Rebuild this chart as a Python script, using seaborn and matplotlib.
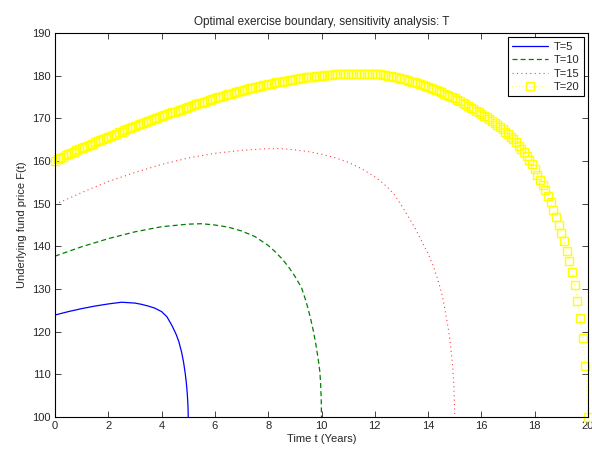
import numpy as np
import pandas as pd
import matplotlib
matplotlib.use("Agg")
import matplotlib.pyplot as plt
import seaborn as sns

# T = 5 boundary
t5 = [0, 0.5, 1, 1.5, 2, 2.5, 3, 3.25, 3.5, 3.75, 4, 4.2, 4.4, 4.55, 4.65, 4.75, 4.82,
      4.88, 4.92, 4.95, 4.97, 4.99, 5.0]
f5 = [123.9, 124.7, 125.4, 126.0, 126.5, 126.9, 126.7, 126.4, 126.0, 125.5, 124.7, 123.5,
      121.3, 119.3, 117.6, 115.2, 113.0, 110.5, 108.5, 106.5, 104.8, 102.5, 100.0]

# T = 10 boundary
t10 = [0, 1, 2, 3, 4, 5, 5.5, 6, 6.5, 7, 7.5, 8, 8.25, 8.5, 8.75, 9, 9.25, 9.4, 9.5, 9.6,
       9.7, 9.78, 9.85, 9.9, 9.94, 9.97, 9.99, 10.0]
f10 = [137.7, 139.9, 141.8, 143.4, 144.6, 145.2, 145.3, 145.0, 144.5, 143.6, 142.3, 140.2,
       138.8, 137.2, 135.3, 133.0, 130.3, 127.5, 125.3, 122.8, 120.0, 117.3, 114.6, 112.5,
       110.5, 107.5, 104.0, 100.0]

# T = 15 boundary
t15 = [0, 1, 2, 3, 4, 5, 6, 7, 8, 8.5, 9, 9.5, 10, 10.5, 11, 11.5, 12, 12.25, 12.5, 12.75,
       13, 13.25, 13.5, 13.75, 14, 14.2, 14.4, 14.55, 14.65, 14.75, 14.82, 14.88, 14.92,
       14.96, 14.98, 15.0]
f15 = [149.8, 152.6, 155.2, 157.3, 159.2, 160.7, 161.8, 162.5, 162.9, 162.9, 162.6, 162.2,
       161.6, 160.8, 159.7, 158.2, 156.3, 155.1, 153.7, 152.0, 149.6, 147.0, 144.4, 141.3,
       138.3, 135.3, 131.5, 128.0, 124.5, 121.0, 118.0, 114.5, 112.0, 108.0, 105.0, 100.0]

# T = 20 boundary, one value per 0.1 year
t20 = [round(0.1 * i, 1) for i in range(201)]
f20 = [160.1, 160.4, 160.7, 161.0, 161.3, 161.6, 161.9, 162.2, 162.5, 162.7, 163.0,
       163.3, 163.6, 163.8, 164.1, 164.4, 164.6, 164.9, 165.2, 165.4, 165.7,
       165.9, 166.2, 166.4, 166.7, 166.9, 167.2, 167.4, 167.7, 167.9, 168.2,
       168.4, 168.6, 168.9, 169.1, 169.3, 169.6, 169.8, 170.0, 170.3, 170.5,
       170.7, 170.9, 171.2, 171.4, 171.6, 171.8, 172.0, 172.3, 172.5, 172.7,
       172.9, 173.1, 173.3, 173.5, 173.7, 173.9, 174.1, 174.3, 174.5, 174.7,
       174.9, 175.1, 175.3, 175.4, 175.6, 175.8, 176.0, 176.2, 176.3, 176.5,
       176.7, 176.8, 177.0, 177.1, 177.3, 177.4, 177.6, 177.7, 177.9, 178.0,
       178.1, 178.3, 178.4, 178.5, 178.6, 178.7, 178.8, 179.0, 179.1, 179.2,
       179.3, 179.4, 179.5, 179.6, 179.6, 179.7, 179.8, 179.9, 179.9, 180.0,
       180.1, 180.1, 180.2, 180.2, 180.3, 180.3, 180.3, 180.4, 180.4, 180.4,
       180.5, 180.5, 180.5, 180.5, 180.5, 180.5, 180.5, 180.5, 180.4, 180.4,
       180.3, 180.3, 180.2, 180.1, 180.0, 179.9, 179.8, 179.6, 179.5, 179.3,
       179.2, 179.0, 178.8, 178.6, 178.4, 178.2, 178.0, 177.8, 177.6, 177.4,
       177.1, 176.9, 176.6, 176.3, 176.1, 175.8, 175.5, 175.2, 175.0, 174.7,
       174.3, 174.0, 173.6, 173.3, 172.9, 172.5, 172.2, 171.8, 171.4, 171.0,
       170.6, 170.2, 169.8, 169.4, 168.9, 168.5, 168.0, 167.4, 166.9, 166.3,
       165.7, 165.1, 164.4, 163.6, 162.8, 162.0, 161.1, 160.2, 159.3, 158.2,
       156.8, 155.6, 154.4, 153.1, 151.8, 150.4, 148.6, 146.8, 145.0, 143.1,
       141.3, 139.0, 136.6, 134.0, 130.9, 127.3, 123.3, 118.5, 112.0, 100.0]

sns.set_style("ticks")
plt.rcParams['font.family'] = ['Liberation Sans', 'DejaVu Sans']
plt.rcParams['xtick.direction'] = 'in'
plt.rcParams['ytick.direction'] = 'in'

fig = plt.figure(figsize=(5.92, 4.49), dpi=100)
ax = fig.add_axes([55 / 592, 32 / 449, 533 / 592, 384 / 449])

sns.lineplot(x=t5, y=f5, ax=ax, color='blue', linewidth=0.9, estimator=None, label='T=5')
sns.lineplot(x=t10, y=f10, ax=ax, color='#007f00', linewidth=0.9, linestyle=(0, (4, 2.5)),
             estimator=None, label='T=10')
sns.lineplot(x=t15, y=f15, ax=ax, color='#ff4040', linewidth=0.8, linestyle=(0, (1, 3)),
             estimator=None, label='T=15')
sns.lineplot(x=t20, y=f20, ax=ax, color='yellow', linewidth=0.6, linestyle=(0, (1, 3)),
             marker='s', markersize=5.5, markerfacecolor='none', markeredgecolor='yellow',
             markeredgewidth=1.0, estimator=None, label='T=20', clip_on=False)

ax.set_xlim(0, 20)
ax.set_ylim(100, 190)
ax.set_xticks(range(0, 21, 2))
ax.set_yticks(range(100, 191, 10))
ax.tick_params(top=True, right=True, labelsize=8, length=4, width=0.6, pad=3)
for s in ax.spines.values():
    s.set_linewidth(0.8)
    s.set_color('black')

ax.set_title('Optimal exercise boundary, sensitivity analysis: T', fontsize=8.5, pad=6)
ax.set_xlabel('Time t (Years)', fontsize=8, labelpad=2)
ax.set_ylabel('Underlying fund price F(t)', fontsize=8, labelpad=4)

leg = ax.legend(loc='upper right', fontsize=8, fancybox=False, framealpha=1,
                edgecolor='black', handlelength=3.2, borderaxespad=0.4,
                labelspacing=0.3, borderpad=0.4, handletextpad=0.5)
leg.get_frame().set_linewidth(0.8)

fig.savefig('out.png', dpi=100)
